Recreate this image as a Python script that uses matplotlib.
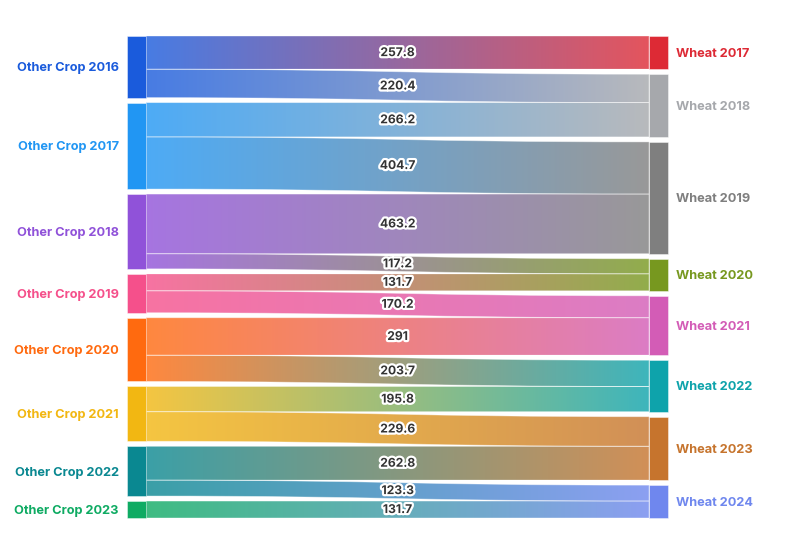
#!/usr/bin/env python3
"""Sankey-style flow from other crops into wheat, one year later."""

import matplotlib
matplotlib.use("Agg")
import matplotlib.pyplot as plt
import matplotlib.patheffects as pe
import numpy as np
from matplotlib.colors import to_rgb
from matplotlib.patches import PathPatch, Rectangle
from matplotlib.path import Path

sources = [
    "Other Crop 2016", "Other Crop 2017", "Other Crop 2018", "Other Crop 2019",
    "Other Crop 2020", "Other Crop 2021", "Other Crop 2022", "Other Crop 2023",
]
targets = [
    "Wheat 2017", "Wheat 2018", "Wheat 2019", "Wheat 2020",
    "Wheat 2021", "Wheat 2022", "Wheat 2023", "Wheat 2024",
]
link_source = [0, 0, 1, 1, 2, 2, 3, 3, 4, 4, 5, 5, 6, 6, 7]
link_target = [0, 1, 1, 2, 2, 3, 3, 4, 4, 5, 5, 6, 6, 7, 7]
link_value = [257.8, 220.4, 266.2, 404.7, 463.2, 117.2, 131.7, 170.2,
              291, 203.7, 195.8, 229.6, 262.8, 123.3, 131.7]

source_colors = ["#1a5bdc", "#2196f3", "#9052d9", "#f5508b",
                 "#ff6a0f", "#f2b712", "#0a8891", "#0fab63"]
target_colors = ["#dd2a35", "#a6a8ac", "#7f7f7f", "#77981f",
                 "#d35cb6", "#0ea3ab", "#c6742d", "#6f87ee"]

W, H = 794, 536
LEFT_X, RIGHT_X, NODE_W = 127, 649, 19
TOP, BOTTOM, GAP = 36, 518, 5
LINK_ALPHA = 0.8

FONT = ["Inter", "DejaVu Sans"]


def lighten(color, alpha=LINK_ALPHA):
    rgb = np.array(to_rgb(color))
    return alpha * rgb + (1 - alpha)


def layout(n_nodes, node_index):
    totals = np.zeros(n_nodes)
    for i, v in zip(node_index, link_value):
        totals[i] += v
    scale = (BOTTOM - TOP - GAP * (n_nodes - 1)) / totals.sum()
    tops = TOP + np.concatenate([[0], np.cumsum(totals * scale + GAP)[:-1]])
    return totals, tops, scale


src_tot, src_top, scale = layout(len(sources), link_source)
tgt_tot, tgt_top, _ = layout(len(targets), link_target)

fig = plt.figure(figsize=(W / 100, H / 100), dpi=100)
ax = fig.add_axes([0, 0, 1, 1])
ax.set_xlim(0, W)
ax.set_ylim(H, 0)
ax.axis("off")

# links, with a horizontal gradient from source to target colour
src_cursor = src_top.copy()
tgt_cursor = tgt_top.copy()
x0, x1 = LEFT_X + NODE_W, RIGHT_X
xm = (x0 + x1) / 2
for s, t, v in zip(link_source, link_target, link_value):
    h = v * scale
    s0, s1 = src_cursor[s], src_cursor[s] + h
    t0, t1 = tgt_cursor[t], tgt_cursor[t] + h
    src_cursor[s] += h
    tgt_cursor[t] += h

    verts = [(x0, s0), (xm, s0), (xm, t0), (x1, t0),
             (x1, t1), (xm, t1), (xm, s1), (x0, s1), (x0, s0)]
    codes = [Path.MOVETO, Path.CURVE4, Path.CURVE4, Path.CURVE4,
             Path.LINETO, Path.CURVE4, Path.CURVE4, Path.CURVE4, Path.CLOSEPOLY]
    patch = PathPatch(Path(verts, codes), facecolor="none",
                      edgecolor=(1, 1, 1, 0.45), lw=0.6, zorder=3)
    ax.add_patch(patch)

    c0, c1 = lighten(source_colors[s]), lighten(target_colors[t])
    frac = np.linspace(0, 1, 256)[None, :, None]
    grad = c0[None, None, :] * (1 - frac) + c1[None, None, :] * frac
    ymin, ymax = min(s0, t0), max(s1, t1)
    im = ax.imshow(grad, extent=(x0, x1, ymax, ymin), aspect="auto",
                   interpolation="bilinear", zorder=2)
    im.set_clip_path(patch)

    ax.text(xm, ((s0 + s1) / 2 + (t0 + t1) / 2) / 2 + 0.5, f"{v:g}",
            ha="center", va="center", fontsize=8.7, fontweight="bold",
            color="#333333", family=FONT, zorder=5,
            path_effects=[pe.withStroke(linewidth=3.2, foreground="white")])

# nodes and their labels
for name, color, top, tot in zip(sources, source_colors, src_top, src_tot):
    h = tot * scale
    ax.add_patch(Rectangle((LEFT_X, top), NODE_W, h, facecolor=color,
                           edgecolor=(1, 1, 1, 0.5), lw=0.6, zorder=4))
    ax.text(LEFT_X - 8, top + h / 2 + 1.5, name, ha="right", va="center",
            fontsize=9.2, fontweight="bold", color=color, family=FONT)

for name, color, top, tot in zip(targets, target_colors, tgt_top, tgt_tot):
    h = tot * scale
    ax.add_patch(Rectangle((RIGHT_X, top), NODE_W, h, facecolor=color,
                           edgecolor=(1, 1, 1, 0.5), lw=0.6, zorder=4))
    ax.text(RIGHT_X + NODE_W + 8, top + h / 2 + 1.5, name, ha="left", va="center",
            fontsize=9.2, fontweight="bold", color=color, family=FONT)

fig.savefig("out.png", dpi=100)
